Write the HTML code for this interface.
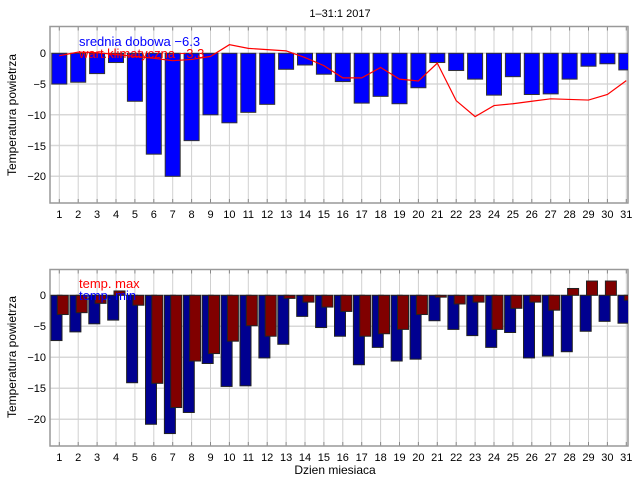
<!DOCTYPE html>
<html><head><meta charset="utf-8"><style>
html,body{margin:0;padding:0;background:#fff;width:640px;height:480px;overflow:hidden}
svg{display:block}
text{font-family:"Liberation Sans",sans-serif;font-size:11px;fill:#000}
</style></head><body>
<svg id="s" width="640" height="480" xmlns="http://www.w3.org/2000/svg">
<g id="g1"></g><g id="g2"></g>
<text x="340" y="17" text-anchor="middle">1–31:1 2017</text>
<g text-anchor="end" font-size="11">
<text x="46" y="57">0</text><text x="46" y="88">−5</text><text x="46" y="119">−10</text><text x="46" y="150">−15</text><text x="46" y="180">−20</text>
<text x="46" y="299">0</text><text x="46" y="330">−5</text><text x="46" y="361">−10</text><text x="46" y="392">−15</text><text x="46" y="423">−20</text>
</g>
<text transform="translate(16,115) rotate(-90)" text-anchor="middle" style="font-size:12px">Temperatura powietrza</text>
<text transform="translate(16,357) rotate(-90)" text-anchor="middle" style="font-size:12px">Temperatura powietrza</text>
<g text-anchor="middle" id="xl1">
<text x="59.3" y="218">1</text><text x="78.2" y="218">2</text><text x="97.1" y="218">3</text><text x="116" y="218">4</text><text x="134.9" y="218">5</text><text x="153.8" y="218">6</text><text x="172.7" y="218">7</text><text x="191.6" y="218">8</text><text x="210.5" y="218">9</text><text x="229.4" y="218">10</text><text x="248.3" y="218">11</text><text x="267.2" y="218">12</text><text x="286.1" y="218">13</text><text x="305" y="218">14</text><text x="323.9" y="218">15</text><text x="342.8" y="218">16</text><text x="361.7" y="218">17</text><text x="380.6" y="218">18</text><text x="399.5" y="218">19</text><text x="418.4" y="218">20</text><text x="437.3" y="218">21</text><text x="456.2" y="218">22</text><text x="475.1" y="218">23</text><text x="494" y="218">24</text><text x="512.9" y="218">25</text><text x="531.8" y="218">26</text><text x="550.7" y="218">27</text><text x="569.6" y="218">28</text><text x="588.5" y="218">29</text><text x="607.4" y="218">30</text><text x="626.3" y="218">31</text>
</g>
<g text-anchor="middle">
<text x="59.3" y="461">1</text><text x="78.2" y="461">2</text><text x="97.1" y="461">3</text><text x="116" y="461">4</text><text x="134.9" y="461">5</text><text x="153.8" y="461">6</text><text x="172.7" y="461">7</text><text x="191.6" y="461">8</text><text x="210.5" y="461">9</text><text x="229.4" y="461">10</text><text x="248.3" y="461">11</text><text x="267.2" y="461">12</text><text x="286.1" y="461">13</text><text x="305" y="461">14</text><text x="323.9" y="461">15</text><text x="342.8" y="461">16</text><text x="361.7" y="461">17</text><text x="380.6" y="461">18</text><text x="399.5" y="461">19</text><text x="418.4" y="461">20</text><text x="437.3" y="461">21</text><text x="456.2" y="461">22</text><text x="475.1" y="461">23</text><text x="494" y="461">24</text><text x="512.9" y="461">25</text><text x="531.8" y="461">26</text><text x="550.7" y="461">27</text><text x="569.6" y="461">28</text><text x="588.5" y="461">29</text><text x="607.4" y="461">30</text><text x="626.3" y="461">31</text>
</g>
<text x="335" y="474" text-anchor="middle" style="font-size:12px">Dzien miesiaca</text>
<text x="79" y="46" style="font-size:13px;fill:#0000ff">srednia dobowa −6.3</text>
<text x="79" y="58" style="font-size:13px;fill:#ff0000">wart.klimatyczna −3.3</text>
<text x="79" y="288" style="font-size:13px;fill:#ff0000">temp. max</text>
<text x="79" y="300" style="font-size:13px;fill:#0000ff">temp. min</text>
</svg>
<script>
var NS="http://www.w3.org/2000/svg";
function el(p,t,a){var e=document.createElementNS(NS,t);for(var k in a)e.setAttribute(k,a[k]);p.appendChild(e);return e;}
var L=50,R=628,dx=18.9,x0=59.3;
function X(d){return x0+(d-1)*dx;}
function frame(g,top,bot,zero,k,cid){
  var c=el(g,"clipPath",{id:cid});el(c,"rect",{x:L,y:top,width:R-L,height:bot-top});
  for(var v=0;v>=-20;v-=5){var y=zero-v*k;el(g,"line",{x1:L,x2:R,y1:y,y2:y,stroke:"#d8d8d8","stroke-width":1.5});}
  for(var d=1;d<=31;d++){var x=X(d);el(g,"line",{x1:x,x2:x,y1:top,y2:bot,stroke:"#d0d0d0","stroke-width":1});
    el(g,"line",{x1:x,x2:x,y1:top,y2:top+4,stroke:"#888"});el(g,"line",{x1:x,x2:x,y1:bot-4,y2:bot,stroke:"#888"});}
  el(g,"rect",{x:L,y:top,width:R-L,height:bot-top,fill:"none",stroke:"#999","stroke-width":1.5});
}
// top chart
var g1=document.getElementById("g1");var z1=53.3,k1=6.15;
frame(g1,26.5,203,z1,k1,"c1");
var avg=[-5,-4.7,-3.3,-1.5,-7.8,-16.4,-20,-14.2,-10,-11.3,-9.6,-8.3,-2.6,-1.9,-3.4,-4.6,-8.1,-7.0,-8.2,-5.6,-1.5,-2.8,-4.2,-6.8,-3.8,-6.7,-6.6,-4.2,-2.1,-1.7,-2.7];
var bg=el(g1,"g",{"clip-path":"url(#c1)"});
avg.forEach(function(v,i){var x=X(i+1);el(bg,"rect",{x:x-7.5,y:z1,width:15,height:-v*k1,fill:"#0000ff",stroke:"#333","stroke-width":1});});
var clim=[-0.4,0.2,0.1,-0.2,-0.5,-0.8,-1.2,-1,-0.5,1.4,0.8,0.6,0.4,-0.7,-2.0,-4.0,-4.0,-2.3,-4.2,-4.5,-1.6,-7.7,-10.3,-8.5,-8.2,-7.8,-7.4,-7.5,-7.6,-6.7,-4.45];
el(bg,"polyline",{points:clim.map(function(v,i){return X(i+1)+","+(z1-v*k1);}).join(" "),fill:"none",stroke:"#ff0000","stroke-width":1.2});
// bottom chart
var g2=document.getElementById("g2");var z2=295.3,k2=6.2;
frame(g2,269.5,446,z2,k2,"c2");
var mn=[-7.3,-5.9,-4.6,-4.0,-14.1,-20.8,-22.3,-18.9,-11,-14.7,-14.6,-10.1,-7.9,-3.4,-5.2,-6.6,-11.2,-8.4,-10.6,-10.3,-4.1,-5.5,-6.5,-8.4,-6.0,-10.1,-9.8,-9.1,-5.8,-4.2,-4.5];
var mx=[-3.1,-2.8,-1.3,0.7,-1.6,-14.2,-18.1,-10.6,-9.4,-7.4,-4.9,-6.6,-0.5,-1.1,-1.9,-2.6,-6.6,-6.2,-5.5,-3.1,-0.3,-1.4,-1.1,-5.5,-2.1,-1.1,-2.4,1.1,2.3,2.3,-0.8];
var bg2=el(g2,"g",{"clip-path":"url(#c2)"});
function bar(p,x,v,c){var y=v<0?z2:z2-v*k2;el(p,"rect",{x:x,y:y,width:11,height:Math.abs(v)*k2,fill:c,stroke:"#222","stroke-width":1});}
for(var i=0;i<31;i++){var x=X(i+1);bar(bg2,x-8.3,mn[i],"#000090");bar(bg2,x-2,mx[i],"#800000");}
</script>
</body></html>
